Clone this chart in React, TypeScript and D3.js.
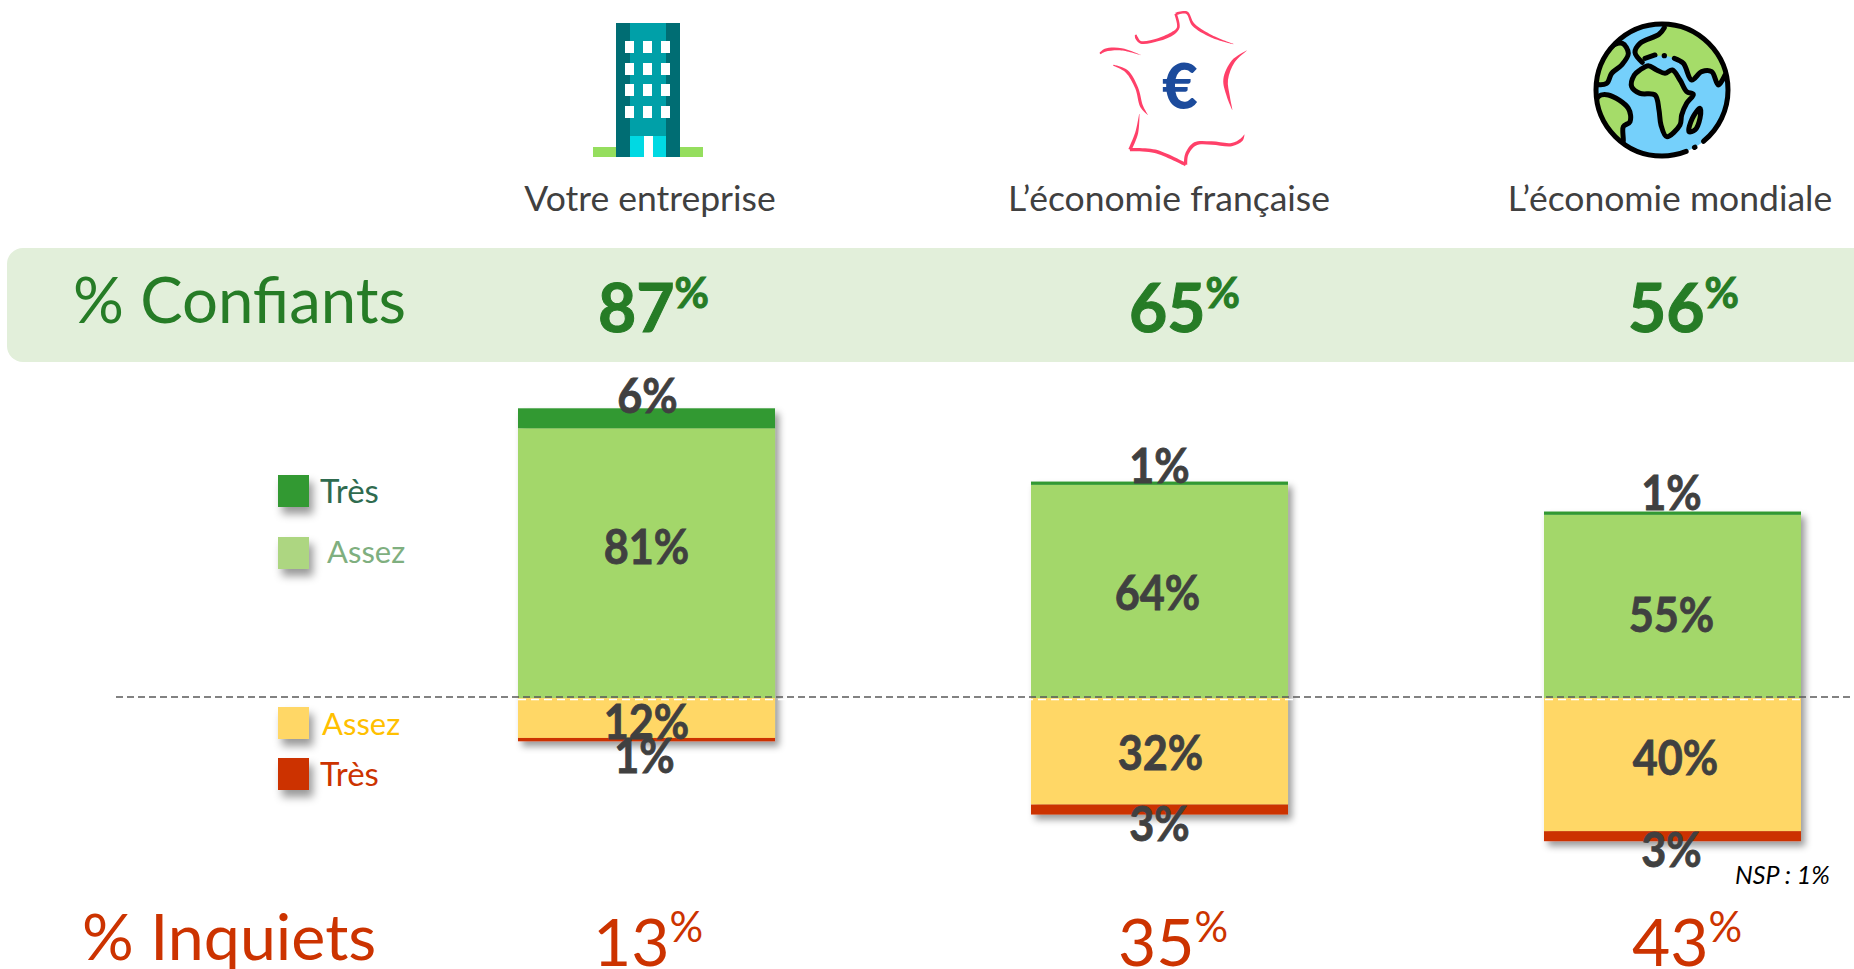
import React from "react";
import * as d3 from "d3";

const W = 1854, H = 969;
const FONT = "Lato, Carlito, 'Open Sans', sans-serif";

const categories = ["Votre entreprise", "L’économie française", "L’économie mondiale"];
const tresConfiant = [6, 1, 1];
const assezConfiant = [81, 64, 55];
const assezInquiet = [12, 32, 40];
const tresInquiet = [1, 3, 3];
const totalConfiants = [87, 65, 56];
const totalInquiets = [13, 35, 43];
const seriesKeys = ["assezC", "tresC", "assezI", "tresI"];
const seriesColors = ["#A3D76B", "#339933", "#FFD766", "#CC3300"];

const rows = categories.map((c, i) => ({
  cat: c,
  assezC: assezConfiant[i],
  tresC: tresConfiant[i],
  assezI: -assezInquiet[i],
  tresI: -tresInquiet[i],
}));

const x = d3.scaleBand<string>().domain(categories).range([518, 1801]).paddingInner(0.499).paddingOuter(0);
const y = d3.scaleLinear().domain([0, 87]).range([698, 698 - 87 * 3.33]);
const stacked = d3.stack<any>().keys(seriesKeys).offset(d3.stackOffsetDiverging)(rows);

// label placement tweaks in px, per series then per category: [dx, centre y shift]
const labelShift: Record<string, [number, number][]> = {
  tresC: [[1, -23], [0, -18], [-1, -21]],
  assezC: [[0, -17], [-2, 0], [-1, 7]],
  assezI: [[0, 3], [1, 1], [3, -8]],
  tresI: [[-2, 15], [0, 13], [-1, 13]],
};

const titleX = [650, 1169, 1670];
const confX = [598, 1129, 1628];
const inqX = [593, 1118, 1632];

type P = [number, number];
const closed = d3.line<P>().curve(d3.curveCatmullRomClosed.alpha(0.5));
const open = d3.line<P>().curve(d3.curveCatmullRom.alpha(0.5));

// globe, in the 3x frame of a 150px box
const eurasiaFill: P[] = [[238,30],[222,58],[165,85],[150,112],[172,142],[190,128],[238,122],[268,130],[295,145],[320,195],[350,170],[380,170],[400,210],[425,180],[440,120],[340,30]];
const eurasiaCoast1: P[] = [[238,38],[222,58],[165,85],[150,112],[172,142]];
const eurasiaCoast2: P[] = [[180,130],[210,120]];
const eurasiaCoast3: P[] = [[268,130],[295,145],[320,195],[350,170],[380,170],[400,210],[420,180]];
const africa: P[] = [[165,165],[190,152],[215,165],[240,175],[262,165],[285,195],[305,230],[325,238],[305,265],[290,300],[285,330],[245,365],[228,330],[222,285],[210,240],[165,235],[140,215],[148,180]];
const northAm: P[] = [[112,85],[130,115],[110,150],[80,175],[65,205],[30,205],[30,150],[70,100]];
const southAm: P[] = [[40,245],[70,240],[130,280],[135,320],[115,335],[112,385],[60,350],[25,300]];
const madagascar: P[] = [[345,280],[322,310],[312,350],[330,345],[345,310]];

// France, tapered strokes: x, y, width in the 3x frame of a 160px box
type T = [number, number, number];
const franceStrokes: T[][] = [
  [[15,137,5],[30,127,9],[80,124,7],[137,141,1]],
  [[122,80,5],[125,90,9],[137,103,8],[190,95,9],[235,75,10],[250,58,8],[242,18,8]],
  [[242,18,8],[275,14,8],[295,50,9],[350,85,7],[415,108,1]],
  [[455,128,1],[415,160,10],[392,215,14],[400,265,9],[412,305,1]],
  [[55,172,3],[95,190,9],[125,240,9],[140,295,9],[158,320,1]],
  [[133,318,1],[125,375,9],[105,425,10]],
  [[105,425,10],[180,430,11],[272,470,10]],
  [[272,470,10],[275,440,10],[300,408,11],[350,405,10],[410,410,10],[440,395,9],[448,380,1]],
];

function taper(pts: T[]): string {
  const n = pts.length;
  const left: P[] = [];
  const right: P[] = [];
  pts.forEach((p, i) => {
    const a = pts[Math.max(0, i - 1)];
    const b = pts[Math.min(n - 1, i + 1)];
    const dx = b[0] - a[0], dy = b[1] - a[1];
    const l = Math.hypot(dx, dy) || 1;
    const nx = -dy / l, ny = dx / l, h = p[2] / 2;
    left.push([p[0] + nx * h, p[1] + ny * h]);
    right.push([p[0] - nx * h, p[1] - ny * h]);
  });
  const f = open(left) ?? "";
  const r = (open(right.reverse()) ?? "").replace(/^M/, "L");
  return f + r + "Z";
}

function Pct({ px, py, v, size, weight, color, supSize, bold }: any) {
  return (
    <text x={px} y={py} fontSize={size} fontWeight={weight} fill={color} stroke={bold ? color : "none"} strokeWidth={bold ? 1 : 0} fontFamily={FONT}>
      {v}
      <tspan fontSize={supSize} dy={-size * 0.36}>%</tspan>
    </text>
  );
}

function Building() {
  const wx = [625, 643, 661];
  const wy = [41, 63, 84, 106];
  return (
    <g>
      <rect x={593} y={147} width={110} height={10} fill="#95DE5E" />
      <rect x={616} y={23} width={64} height={134} fill="#006D73" />
      <rect x={630} y={23} width={36} height={134} fill="#00A0A8" />
      <rect x={630} y={136} width={36} height={21} fill="#00D9E3" />
      <rect x={644} y={136} width={9} height={21} fill="#fff" />
      {wy.map((b) => wx.map((a) => <rect key={`${a}-${b}`} x={a} y={b} width={9} height={12} fill="#fff" />))}
    </g>
  );
}

function France() {
  return (
    <g>
      <g transform="translate(1095,8) scale(0.3333)">
        {franceStrokes.map((p, i) => <path key={i} d={taper(p)} fill="#FF4069" />)}
      </g>
      <text x={1180} y={109} textAnchor="middle" fontSize={62} fontWeight={900} fill="#1C4B9C" fontFamily={FONT}>€</text>
    </g>
  );
}

function Globe() {
  const tf = "translate(1585,15) scale(0.3333)";
  const stroke = { stroke: "#000", strokeWidth: 5, vectorEffect: "non-scaling-stroke", strokeLinejoin: "round", strokeLinecap: "round" } as any;
  return (
    <g>
      <defs>
        <clipPath id="globeClip"><circle cx={1662} cy={90} r={66} /></clipPath>
      </defs>
      <circle cx={1662} cy={90} r={66} fill="#75D0FB" />
      <g clipPath="url(#globeClip)">
        <g transform={tf}>
          <path d={closed(eurasiaFill) ?? ""} fill="#A5DC69" />
          {[eurasiaCoast1, eurasiaCoast2, eurasiaCoast3].map((p, i) => (
            <path key={i} d={open(p) ?? ""} fill="none" {...stroke} />
          ))}
          <circle cx={238} cy={122} r={8} fill="#000" />
          {[northAm, southAm, africa, madagascar].map((p, i) => (
            <path key={i} d={closed(p) ?? ""} fill="#A5DC69" {...stroke} />
          ))}
        </g>
      </g>
      <circle cx={1662} cy={90} r={66} fill="none" stroke="#000" strokeWidth={5} pathLength={360} strokeDasharray="51 9 0.5 8 291.5" strokeLinecap="round" />
    </g>
  );
}

const legend = [
  { label: "Très", color: "#339933", text: "#2F6B4F", sy: 475, tx: 320, ty: 503, fs: 33 },
  { label: "Assez", color: "#ADD681", text: "#7FAF7F", sy: 537, tx: 327, ty: 563, fs: 31 },
  { label: "Assez", color: "#FFD766", text: "#FFC000", sy: 707, tx: 322, ty: 735, fs: 31 },
  { label: "Très", color: "#CC3300", text: "#CC3300", sy: 758, tx: 320, ty: 786, fs: 33 },
];

export default function App() {
  const bw = x.bandwidth();
  return (
    <svg width={W} height={H} viewBox={`0 0 ${W} ${H}`} style={{ position: "absolute", left: 0, top: 0, display: "block", background: "#fff" }}>
      <defs>
        <filter id="shadow" x="-15%" y="-15%" width="135%" height="135%">
          <feDropShadow dx={4} dy={5} stdDeviation={3.5} floodColor="#000" floodOpacity={0.4} />
        </filter>
        <filter id="shadowSmall" x="-40%" y="-40%" width="200%" height="200%">
          <feDropShadow dx={4} dy={7} stdDeviation={4} floodColor="#000" floodOpacity={0.4} />
        </filter>
      </defs>

      <Building />
      <France />
      <Globe />

      {categories.map((c, i) => (
        <text key={c} x={titleX[i]} y={211} textAnchor="middle" fontSize={35.5} fill="#404040" fontFamily={FONT}>{c}</text>
      ))}

      <path d={`M1854,248H23a16,16 0 0 0 -16,16V346a16,16 0 0 0 16,16H1854Z`} fill="#E2EFDA" />
      <text x={73} y={323} fontSize={63.5} fill="#267C26" fontFamily={FONT}>% Confiants</text>
      {totalConfiants.map((v, i) => (
        <Pct key={i} px={confX[i]} py={332} v={v} size={66} weight={700} supSize={42} color="#267C26" bold />
      ))}

      {legend.map((l, i) => (
        <g key={i}>
          <rect x={278} y={l.sy} width={31} height={32} fill={l.color} filter="url(#shadowSmall)" />
          <text x={l.tx} y={l.ty} fontSize={l.fs} fill={l.text} fontFamily={FONT}>{l.label}</text>
        </g>
      ))}

      {categories.map((c, ci) => (
        <g key={c} filter="url(#shadow)">
          {stacked.map((s, si) => {
            const [a, b] = s[ci];
            const top = Math.min(y(a), y(b));
            return <rect key={s.key} x={x(c)} y={top} width={bw} height={Math.abs(y(a) - y(b))} fill={seriesColors[si]} />;
          })}
        </g>
      ))}

      <line x1={518} x2={1801} y1={699.5} y2={699.5} stroke="#fff" strokeWidth={1.5} strokeDasharray="8 5" />
      <line x1={116} x2={1854} y1={697} y2={697} stroke="#595959" strokeWidth={1.5} strokeDasharray="7 4" />

      {stacked.map((s) =>
        categories.map((c, ci) => {
          const [a, b] = s[ci];
          const shift = labelShift[s.key][ci];
          const v = Math.abs(b - a);
          const lx = x(c)! + bw / 2 + shift[0];
          const ly = y((a + b) / 2) + shift[1];
          return (
            <text key={s.key + c} transform={`translate(${lx},${ly}) scale(0.92,1)`} textAnchor="middle" dominantBaseline="central"
              fontSize={47} fontWeight={700} fill="#404040" stroke="#404040" strokeWidth={0.8} fontFamily={FONT}>{v}%</text>
          );
        })
      )}

      <text x={1735} y={884} fontSize={25} fontStyle="italic" fill="#000" fontFamily={FONT}>NSP : 1%</text>

      <text x={82} y={960} fontSize={64.5} fill="#CC3300" fontFamily={FONT}>% Inquiets</text>
      {totalInquiets.map((v, i) => (
        <Pct key={i} px={inqX[i]} py={966} v={v} size={66} weight={400} supSize={42} color="#CC3300" />
      ))}
    </svg>
  );
}
